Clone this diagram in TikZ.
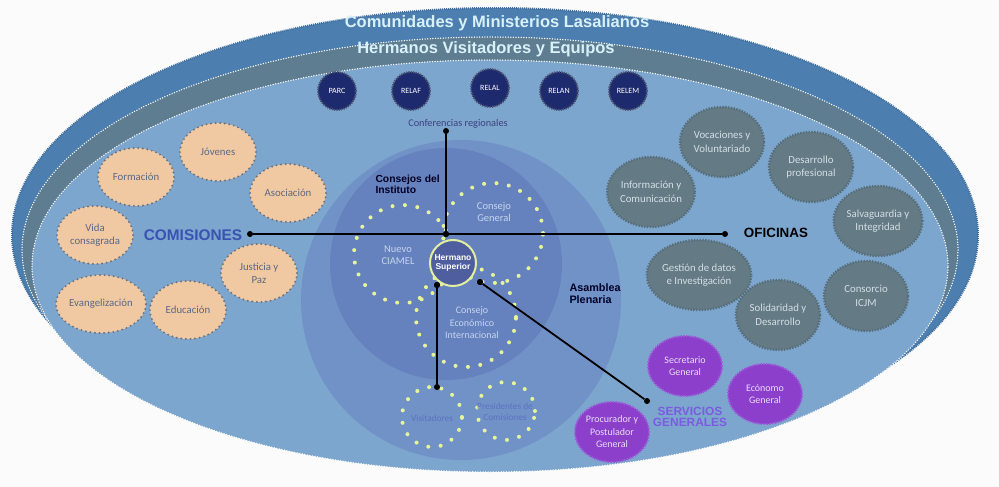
\documentclass[tikz,border=0pt]{standalone}
\usepackage{fontspec}
\setmainfont{Carlito}
\newfontfamily\headfont{Liberation Sans}
\usepackage{xcolor}
\usepackage{tikz}
\usetikzlibrary{shapes.geometric}

\definecolor{bgwhite}{HTML}{FBFBFB}
\definecolor{outerblue}{HTML}{4C7FB0}
\definecolor{outeredge}{HTML}{3F6F9E}
\definecolor{midteal}{HTML}{5E7D91}
\definecolor{innerlight}{HTML}{7DA6CE}
\definecolor{asamblea}{HTML}{7192C7}
\definecolor{consejos}{HTML}{6682BE}
\definecolor{hermfill}{HTML}{4F5E9E}
\definecolor{hermedge}{HTML}{E2EFA0}
\definecolor{dotyellow}{HTML}{E6F59A}
\definecolor{peach}{HTML}{F0C9A3}
\definecolor{peachedge}{HTML}{6E7380}
\definecolor{peachtext}{HTML}{5B6886}
\definecolor{ofigray}{HTML}{647B86}
\definecolor{ofiedge}{HTML}{566E7A}
\definecolor{ofitext}{HTML}{D3DDE6}
\definecolor{servpurple}{HTML}{8B3FCB}
\definecolor{servedge}{HTML}{9C5AD8}
\definecolor{servtext}{HTML}{EBDDF7}
\definecolor{navy}{HTML}{1E2A6E}
\definecolor{navyedge}{HTML}{4A5470}
\definecolor{titletext}{HTML}{D8F1FA}
\definecolor{comblue}{HTML}{3A52B2}
\definecolor{servlabel}{HTML}{7B5CE0}
\definecolor{conftext}{HTML}{3C407E}
\definecolor{ringlabel}{HTML}{C5D5EE}
\definecolor{ringlabeldark}{HTML}{5B72C2}

\begin{document}
\begin{tikzpicture}[
	x=1pt, y=-1pt,
	comnode/.style={
		ellipse, fill=peach, draw=peachedge, line width=2.2pt,
		dash pattern=on 0pt off 4.6pt, line cap=round,
		minimum width=76pt, minimum height=58pt, inner sep=0pt,
		align=center, text=peachtext, font=\fontsize{10.8}{13}\selectfont
	},
	ofinode/.style={
		ellipse, fill=ofigray, draw=ofiedge, line width=2.4pt,
		dash pattern=on 1.4pt off 1.4pt,
		minimum width=84pt, minimum height=70pt, inner sep=0pt,
		align=center, text=ofitext, font=\fontsize{10.8}{13.5}\selectfont
	},
	servnode/.style={
		ellipse, fill=servpurple, draw=servedge, line width=2pt,
		dash pattern=on 1.4pt off 1.4pt,
		minimum width=74pt, minimum height=60pt, inner sep=0pt,
		align=center, text=servtext, font=\fontsize{10}{12.5}\selectfont
	},
	confnode/.style={
		circle, fill=navy, draw=navyedge, line width=2pt,
		dash pattern=on 1.2pt off 1.2pt,
		minimum size=38pt, inner sep=0pt,
		text=white, font=\fontsize{8}{9}\selectfont
	},
	ring/.style={
		circle, draw=dotyellow, line width=4pt,
		dash pattern=on 0pt off 12.5pt, line cap=round, inner sep=0pt
	},
	ringtext/.style={align=center, text=ringlabel, font=\fontsize{10.5}{12.5}\selectfont},
	head/.style={font=\headfont\bfseries\fontsize{#1}{#1}\selectfont},
	dotnode/.style={circle, fill=black, inner sep=0pt, minimum size=6pt},
	link/.style={draw=black, line width=1.8pt}
	]

	% --- fondo y elipses ---
	\fill[bgwhite] (0,0) rectangle (999,487);
	\useasboundingbox (0,0) rectangle (999,487);
	\filldraw[fill=outerblue, draw=outeredge, line width=2pt, dash pattern=on 1pt off 1pt]
		(495,235) ellipse [x radius=483pt, y radius=227pt];
	\filldraw[fill=midteal, draw=white, line width=1.5pt, dash pattern=on 0pt off 2.6pt, line cap=round]
		(490,250) ellipse [x radius=468pt, y radius=213pt];
	\filldraw[fill=innerlight, draw=white, line width=1.5pt, dash pattern=on 0pt off 2.6pt, line cap=round]
		(490,266) ellipse [x radius=458pt, y radius=206pt];

	\node[head=16.5, text=titletext] (comunidades) at (497,23) {Comunidades y Ministerios Lasalianos};
	\node[head=16.5, text=titletext] (hermanos) at (486,49) {Hermanos Visitadores y Equipos};

	% --- Asamblea y Consejos ---
	\fill[asamblea] (461,300) circle [radius=160pt];
	\fill[consejos] (446,264) circle [radius=116pt];

	\node[ring, minimum size=98pt] (ciamel) at (403,254) {};
	\node[ring, minimum size=100pt] (general) at (493,233) {};
	\node[ring, minimum size=100pt] (economico) at (466,317) {};
	\node[ring, minimum size=60pt] (visit) at (432,417) {};
	\node[ring, minimum size=58pt] (presid) at (506,411) {};

	\node[ringtext] (ciameltxt) at (398,255) {Nuevo\\CIAMEL};
	\node[ringtext] (generaltxt) at (494,212) {Consejo\\General};
	\node[ringtext, font=\fontsize{10}{12.5}\selectfont] (economicotxt) at (472,323) {Consejo\\Económico\\Internacional};
	\node[ringtext, text=ringlabeldark, font=\fontsize{9.3}{11}\selectfont] (visittxt) at (432,418) {Visitadores};
	\node[ringtext, text=ringlabeldark, font=\fontsize{9.3}{11}\selectfont] (presidtxt) at (505,412) {Presidentes de\\Comisiones};

	\node[head=10.3, text=black!85!blue, align=left, anchor=west] (consejostxt) at (372,184) {Consejos del\\[1pt]Instituto};
	\node[head=10.8, text=black!85!blue, align=left, anchor=west] (asambleatxt) at (566,294) {Asamblea\\[1pt]Plenaria};

	% --- Conferencias regionales ---
	\node[confnode] (parc) at (337,91) {PARC};
	\node[confnode] (relaf) at (411,91) {RELAF};
	\node[confnode] (relal) at (490,88) {RELAL};
	\node[confnode] (relan) at (559,91) {RELAN};
	\node[confnode] (relem) at (628,91) {RELEM};
	\node[text=conftext, font=\fontsize{10.3}{12}\selectfont] (conftxt) at (458,124) {Conferencias regionales};

	% --- Comisiones ---
	\node[comnode] (formacion) at (136,177) {Formación};
	\node[comnode] (jovenes) at (218,152) {Jóvenes};
	\node[comnode] (asociacion) at (288,193) {Asociación};
	\node[comnode] (vida) at (95,235) {Vida\\consagrada};
	\node[comnode] (justicia) at (259,273) {Justicia y\\Paz};
	\node[comnode] (evangel) at (101,304) {Evangelización};
	\node[comnode] (educacion) at (188,310) {Educación};
	\node[head=15.4, text=comblue] (comisiones) at (193,235) {COMISIONES};

	% --- Oficinas ---
	\node[ofinode] (vocaciones) at (722,142) {Vocaciones y\\Voluntariado};
	\node[ofinode] (desarrollo) at (811,167) {Desarrollo\\profesional};
	\node[ofinode] (informacion) at (651,192) {Información y\\Comunicación};
	\node[ofinode] (salvaguardia) at (878,221) {Salvaguardia y\\Integridad};
	\node[ofinode] (gestion) at (699,275) {Gestión de datos\\e Investigación};
	\node[ofinode] (solidaridad) at (778,315) {Solidaridad y\\Desarrollo};
	\node[ofinode] (consorcio) at (866,296) {Consorcio\\ICJM};
	\node[head=13.4, text=black] (oficinas) at (776,233) {OFICINAS};

	% --- Servicios generales ---
	\node[servnode] (secretario) at (685,366) {Secretario\\General};
	\node[servnode] (economo) at (765,394) {Ecónomo\\General};
	\node[servnode] (procurador) at (612,432) {Procurador y\\Postulador\\General};
	\node[head=11.9, text=servlabel, align=center] (servicios) at (690,417) {SERVICIOS\\[-1pt]GENERALES};

	% --- conexiones ---
	\node[dotnode] (dcom) at (250,234) {};
	\node[dotnode] (dofi) at (725,234) {};
	\node[dotnode] (dconf) at (446,131) {};
	\node[dotnode] (djunc) at (446,234) {};
	\node[dotnode] (dherm) at (437,285) {};
	\node[dotnode] (dvis) at (437,387) {};
	\node[dotnode] (dherm2) at (480,282) {};
	\node[dotnode] (dserv) at (647,401) {};

	\draw[link] (dcom) -- (dofi);
	\draw[link] (dconf) -- (djunc);
	\draw[link] (dherm) -- (dvis);
	\draw[link] (dherm2) -- (dserv);

	\node[circle, fill=hermfill, draw=hermedge, line width=2pt, minimum size=46pt, inner sep=0pt,
		align=center, text=white, head=8.5] (hermano) at (453,263) {Hermano\\Superior};
	\node[dotnode] at (dherm) {};
	\node[dotnode] at (dherm2) {};
	\node[dotnode] at (djunc) {};

\end{tikzpicture}
\end{document}
